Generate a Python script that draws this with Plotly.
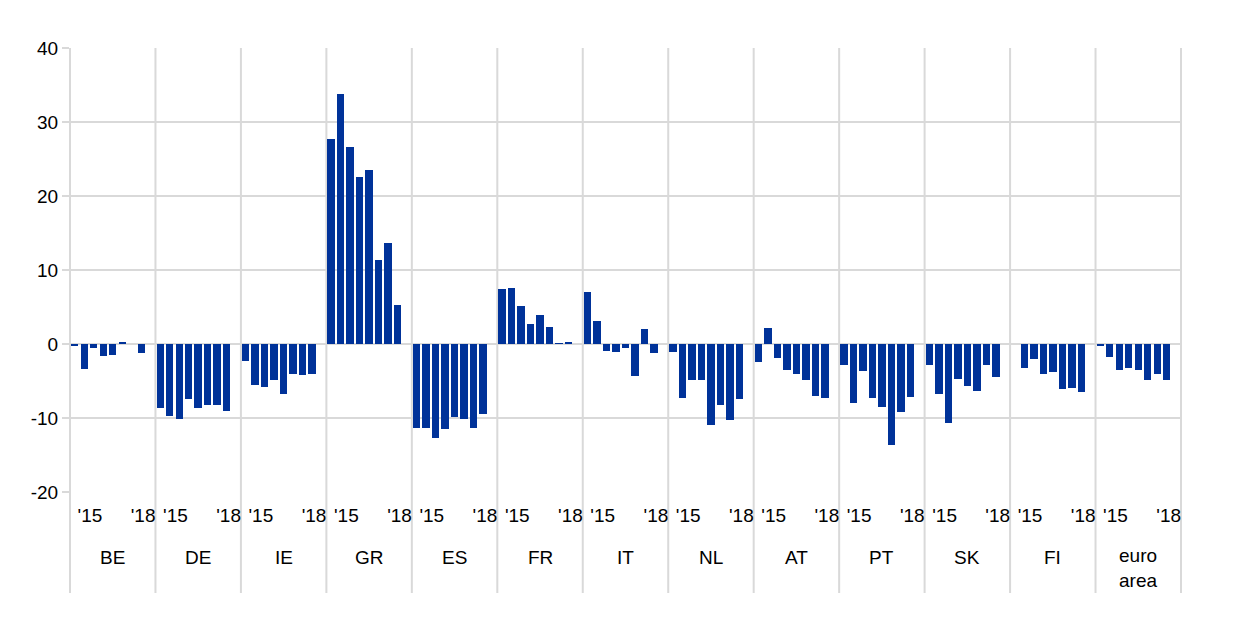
import plotly.graph_objects as go

countries = ["BE", "DE", "IE", "GR", "ES", "FR", "IT", "NL", "AT", "PT", "SK", "FI", "euro<br>area"]
# eight half-year observations per country, 2015 to 2018 (None = not available)
values = {
    "BE": [-0.3, -3.4, -0.6, -1.6, -1.5, 0.3, 0.0, -1.2],
    "DE": [-8.7, -9.7, -10.1, -7.4, -8.7, -8.2, -8.3, -9.0],
    "IE": [-2.3, -5.5, -5.8, -4.9, -6.7, -4.0, -4.2, -4.1],
    "GR": [27.7, 33.8, 26.6, 22.6, 23.5, 11.4, 13.7, 5.3],
    "ES": [-11.3, -11.4, -12.7, -11.5, -9.8, -10.2, -11.3, -9.4],
    "FR": [7.4, 7.6, 5.1, 2.7, 3.9, 2.3, 0.05, 0.2],
    "IT": [7.0, 3.1, -1.0, -1.1, -0.5, -4.3, 2.0, -1.2],
    "NL": [-1.1, -7.3, -4.8, -4.9, -10.9, -8.3, -10.3, -7.4],
    "AT": [-2.4, 2.1, -1.9, -3.5, -4.1, -4.8, -7.0, -7.3],
    "PT": [-2.9, -8.0, -3.7, -7.3, -8.5, -13.7, -9.2, -7.1],
    "SK": [-2.8, -6.7, -10.7, -4.7, -5.7, -6.4, -2.9, -4.4],
    "FI": [None, -3.2, -2.0, -4.0, -3.8, -6.1, -6.0, -6.5],
    "euro<br>area": [-0.3, -1.7, -3.5, -3.2, -3.5, -4.8, -4.0, -4.8],
}
year_labels = ["'15", "'18"]
y_ticks = [-20, -10, 0, 10, 20, 30, 40]
y_ticktext = ["-20", "-10", "0", "10", "20", "30", "40"]

SLOTS = 9  # 8 observations + 1 empty gap per country block
BLUE = "#003299"
GRID = "#d9d9d9"
FONT = "Liberation Sans, Arial, sans-serif"
FS = 19

xs, ys = [], []
for g, c in enumerate(countries):
    for i, v in enumerate(values[c]):
        xs.append(g * SLOTS + i)
        ys.append(v)

fig = go.Figure(go.Bar(x=xs, y=ys, marker=dict(color=BLUE, line=dict(width=0)),
                       width=0.78, hoverinfo="x+y"))

n = len(countries)
tickvals, ticktext = [], []
for g in range(n):
    tickvals += [g * SLOTS + 1.6, g * SLOTS + 7.2]
    ticktext += year_labels

shapes = []
for k in range(n + 1):
    shapes.append(dict(type="line", xref="paper", yref="paper", x0=k / n, x1=k / n,
                       y0=-101 / 444, y1=1, line=dict(color=GRID, width=2), layer="below"))

annotations = []
for g, c in enumerate(countries):
    annotations.append(dict(x=g * SLOTS + 4, xref="x", y=-65 / 444 if "<br>" not in c else -76 / 444,
                            yref="paper", text=c, showarrow=False, xanchor="center", yanchor="middle",
                            font=dict(family=FONT, size=FS, color="#000000")))

fig.update_layout(
    width=1240, height=629,
    margin=dict(l=62, r=67, t=40, b=145),
    plot_bgcolor="white", paper_bgcolor="white",
    showlegend=False, bargap=0,
    shapes=shapes, annotations=annotations,
    xaxis=dict(range=[-0.5, n * SLOTS - 0.5], tickvals=tickvals, ticktext=ticktext,
               showgrid=False, zeroline=False, showline=False,
               ticks="outside", ticklen=6, tickcolor="rgba(0,0,0,0)",
               tickfont=dict(family=FONT, size=FS, color="#000000"), tickangle=0),
    yaxis=dict(range=[-20, 40], tickvals=y_ticks, ticktext=y_ticktext, showgrid=True,
               gridcolor=GRID, gridwidth=2,
               zeroline=False, showline=False, ticks="outside", ticklen=7, tickcolor=GRID, tickwidth=2,
               tickfont=dict(family=FONT, size=FS, color="#000000")),
)

fig.write_html("out.html")
